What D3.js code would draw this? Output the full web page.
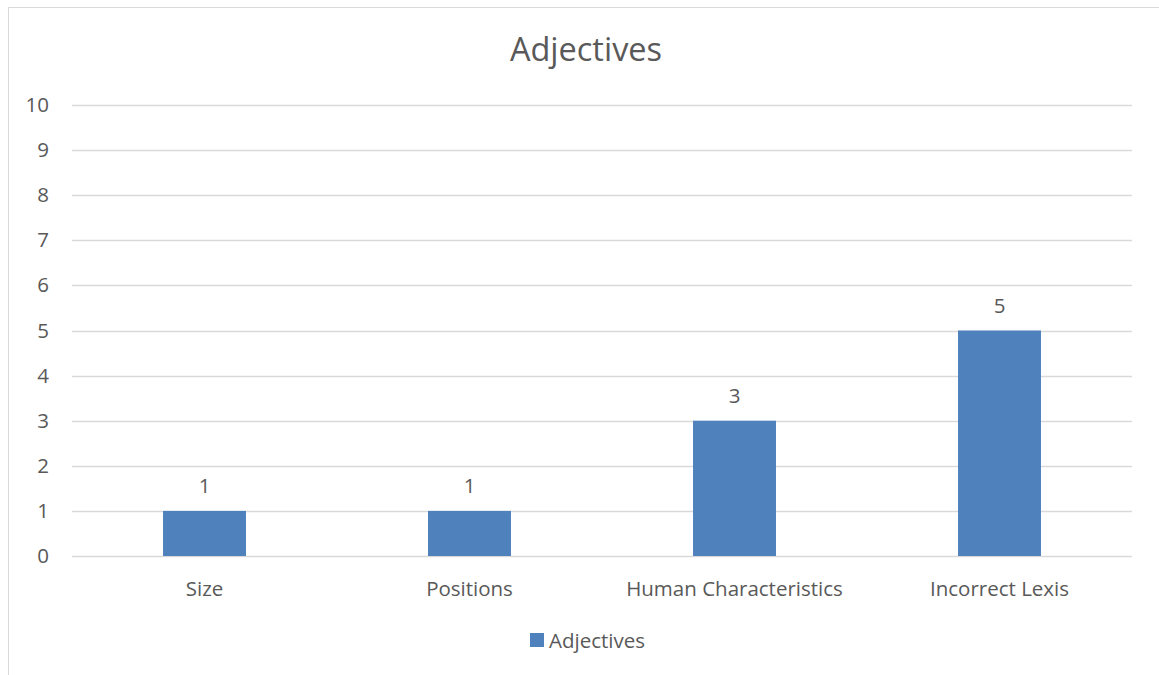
<!DOCTYPE html>
<html>
<head>
<meta charset="utf-8">
<script src="https://cdn.jsdelivr.net/npm/d3@7"></script>
<style>
  html, body { margin: 0; padding: 0; background: #fff; }
  svg { display: block; font-family: "Open Sans", Lato, sans-serif; }
</style>
</head>
<body>
<svg id="chart" width="1159" height="675"></svg>
<script>
// Chart data
const chartTitle = "Adjectives";
const seriesName = "Adjectives";
const categories = ["Size", "Positions", "Human Characteristics", "Incorrect Lexis"];
const values = [1, 1, 3, 5];
const yTicks = [0, 1, 2, 3, 4, 5, 6, 7, 8, 9, 10];

const W = 1159, H = 675;
const margin = { left: 72, right: 27, top: 105, bottom: 119 };
const barColor = "#4f81bd";
const textColor = "#595959";
const gridColor = "#d9d9d9";
const fontFamily = "'Open Sans', Lato, sans-serif";
const labelSize = 20.5;

const svg = d3.select("#chart");

// Outer chart frame (top and left edges visible)
svg.append("rect")
  .attr("x", 8.5).attr("y", 7.5)
  .attr("width", W + 10).attr("height", H + 10)
  .attr("fill", "#fff").attr("stroke", "#d9d9d9").attr("stroke-width", 1);

const x = d3.scaleBand()
  .domain(categories)
  .range([margin.left, W - margin.right])
  .paddingInner(0.687)
  .paddingOuter(0.3435);

const y = d3.scaleLinear()
  .domain([0, 10])
  .range([H - margin.bottom, margin.top]);

// Title
svg.append("text")
  .attr("x", 586).attr("y", 61)
  .attr("text-anchor", "middle")
  .attr("font-size", 32.5)
  .attr("fill", textColor)
  .text(chartTitle);

// Horizontal gridlines
svg.append("g")
  .selectAll("line")
  .data(yTicks)
  .join("line")
  .attr("x1", margin.left).attr("x2", W - margin.right)
  .attr("y1", d => Math.round(y(d)) + 0.5)
  .attr("y2", d => Math.round(y(d)) + 0.5)
  .attr("stroke", gridColor).attr("stroke-width", 1.5);

// Y axis labels
const yAxis = d3.axisLeft(y).tickValues(yTicks).tickSize(0).tickPadding(0);
const gy = svg.append("g")
  .attr("transform", `translate(49,0)`)
  .call(yAxis);
gy.select(".domain").remove();
gy.selectAll("text")
  .attr("font-size", labelSize)
  .attr("font-family", fontFamily)
  .attr("fill", textColor);

// Bars
svg.append("g")
  .selectAll("rect")
  .data(values)
  .join("rect")
  .attr("x", (d, i) => x(categories[i]))
  .attr("width", x.bandwidth())
  .attr("y", d => y(d))
  .attr("height", d => y(0) - y(d))
  .attr("fill", barColor);

// Value labels
svg.append("g")
  .selectAll("text")
  .data(values)
  .join("text")
  .attr("x", (d, i) => x(categories[i]) + x.bandwidth() / 2)
  .attr("y", d => y(d) - 18)
  .attr("text-anchor", "middle")
  .attr("font-size", labelSize)
  .attr("fill", textColor)
  .text(d => d);

// X axis category labels
const xAxis = d3.axisBottom(x).tickSize(0).tickPadding(0);
const gx = svg.append("g")
  .attr("transform", `translate(0,${y(0) + 40})`)
  .call(xAxis);
gx.select(".domain").remove();
gx.selectAll("text")
  .attr("dy", 0)
  .attr("font-size", labelSize)
  .attr("font-family", fontFamily)
  .attr("fill", textColor);

// Legend
const legend = svg.append("g").attr("transform", "translate(530,633)");
legend.append("rect")
  .attr("width", 14).attr("height", 14)
  .attr("fill", barColor);
legend.append("text")
  .attr("x", 19).attr("y", 15)
  .attr("font-size", labelSize)
  .attr("fill", textColor)
  .text(seriesName);
</script>
</body>
</html>
